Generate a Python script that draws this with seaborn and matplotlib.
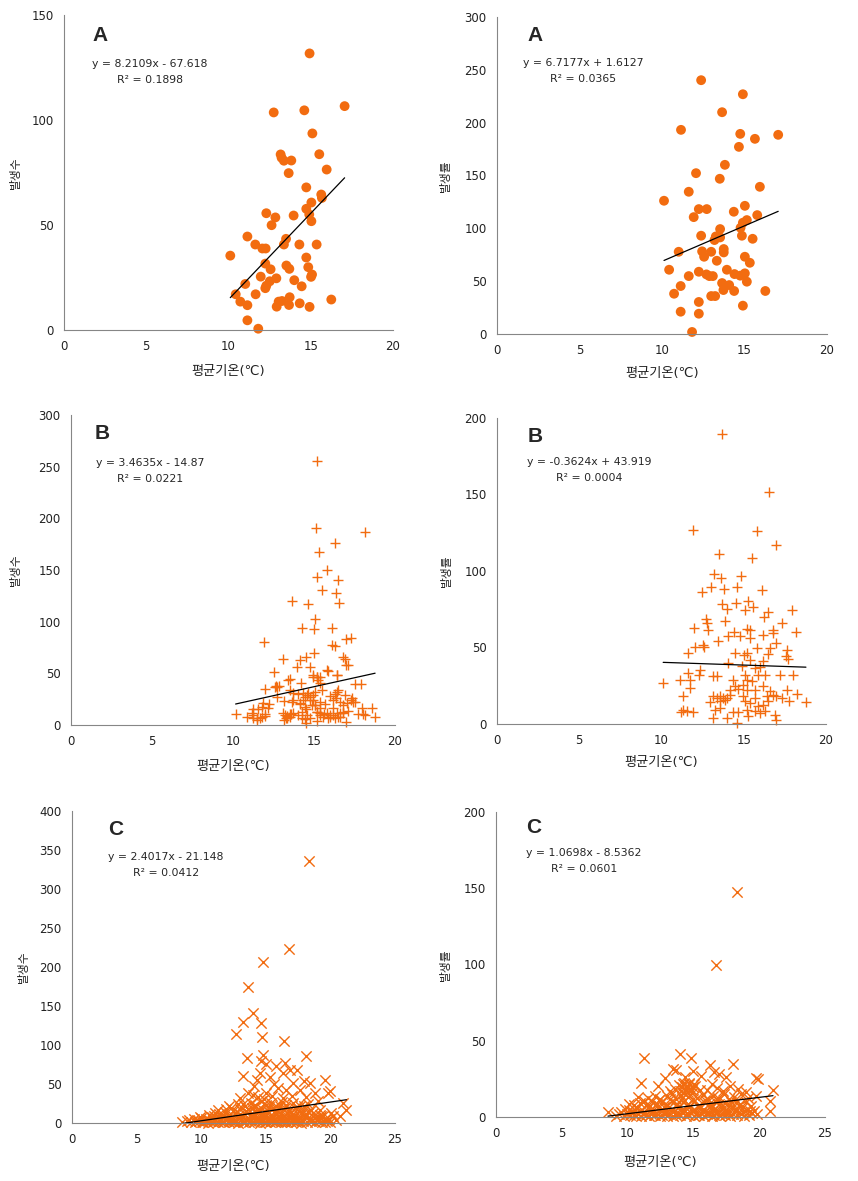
import matplotlib
matplotlib.use('Agg')
import matplotlib.pyplot as plt
import seaborn as sns
import pandas as pd

# ---- data ----
# A : circles
a_cnt_temp = [14.93, 17.06, 12.75, 14.61, 15.10, 13.17, 13.23, 13.37, 13.82, 15.52,
              13.66, 15.97, 14.73, 15.64, 15.68, 15.04, 14.73, 14.91, 15.04, 12.30,
              12.85, 13.96, 12.62, 11.15, 13.50, 13.37, 11.63, 12.06, 12.26, 14.31,
              15.36, 10.11, 14.73, 12.24, 12.56, 13.52, 13.70, 14.85, 11.96, 12.91,
              15.08, 15.02, 12.51, 12.30, 12.24, 14.00, 14.45, 11.02, 10.44, 11.65,
              10.72, 11.15, 13.72, 13.05, 13.25, 12.93, 13.68, 14.33, 14.93, 16.25,
              11.15, 11.81]
a_cnt_val = [131.7, 106.6, 103.6, 104.6, 93.6, 83.6, 82.0, 80.6, 80.7, 83.7,
             74.7, 76.4, 67.9, 64.5, 62.9, 60.7, 57.7, 55.0, 51.8, 55.6,
             53.6, 54.5, 49.9, 44.5, 43.4, 40.7, 40.7, 38.8, 38.8, 40.7,
             40.7, 35.4, 34.5, 31.6, 28.9, 30.7, 29.1, 29.9, 25.4, 24.6,
             26.4, 25.3, 23.2, 21.1, 19.9, 23.7, 20.8, 21.9, 17.0, 17.0,
             13.5, 11.8, 15.6, 13.5, 13.8, 11.1, 11.9, 12.7, 11.0, 14.5,
             4.6, 0.6]

a_rate_temp = [12.37, 14.90, 13.64, 11.15, 14.74, 15.63, 17.04, 14.66, 13.81, 12.06,
               13.50, 15.93, 11.62, 10.12, 12.23, 12.71, 15.02, 14.35, 11.92, 15.77,
               15.14, 14.90, 14.76, 13.52, 12.37, 13.26, 13.18, 13.52, 14.84, 15.49,
               13.74, 13.74, 11.01, 12.43, 12.98, 12.55, 15.02, 13.32, 15.32, 10.43,
               13.93, 12.23, 12.69, 12.87, 13.08, 14.39, 14.74, 15.02, 11.62, 11.13,
               13.64, 14.07, 15.14, 10.73, 13.72, 14.37, 16.26, 12.98, 13.22, 12.23,
               11.13, 12.23, 14.90, 11.82]
a_rate_val = [240.2, 226.9, 209.9, 193.2, 189.4, 184.7, 188.5, 177.1, 160.1, 152.2,
              146.9, 139.3, 134.6, 126.1, 118.2, 118.2, 121.3, 115.7, 110.6, 112.5,
              107.8, 105.3, 100.5, 99.3, 93.0, 92.3, 88.9, 91.4, 93.0, 90.1,
              80.4, 77.2, 77.8, 78.2, 77.8, 73.1, 73.1, 69.3, 67.4, 60.8,
              60.8, 58.9, 56.4, 54.8, 54.8, 56.7, 55.2, 57.4, 54.8, 45.4,
              48.2, 46.3, 49.5, 38.1, 41.6, 40.7, 40.7, 35.9, 35.9, 30.3,
              21.1, 19.2, 26.8, 1.9]

# B : plus signs
b_cnt_temp = [15.19, 15.12, 18.15, 16.32, 15.33, 15.82, 15.19, 16.46, 15.51, 16.34,
              16.52, 13.62, 14.65, 15.04, 15.02, 14.24, 16.11, 11.93, 16.11, 16.28,
              16.98, 17.30, 15.02, 14.51, 16.79, 16.93, 13.11, 14.14, 16.95, 17.08,
              13.93, 14.75, 12.53, 15.86, 16.44, 13.52, 14.96, 15.16, 15.37, 11.97,
              12.63, 12.82, 14.20, 17.55, 17.90, 15.49, 13.72, 14.00, 14.34, 14.55,
              14.75, 15.99, 16.32, 13.17, 13.62, 14.96, 15.37, 16.60, 17.28, 17.43,
              12.20, 11.87, 11.77, 14.14, 15.06, 15.68, 16.81, 11.26, 11.56, 12.18,
              14.51, 18.56, 10.16, 11.15, 11.97, 13.11, 13.52, 13.31, 13.72, 15.16,
              15.37, 15.62, 15.99, 16.60, 16.81, 17.12, 17.74, 18.05, 18.77, 11.26,
              11.46, 11.67, 13.15, 13.35, 14.45, 14.75, 15.16, 15.88, 16.30, 16.50,
              16.98, 14.51, 10.84, 13.72, 14.34, 16.16, 16.36, 14.86, 15.37, 16.16,
              15.06, 16.44, 12.69, 15.37,
              11.25, 11.46, 11.77, 11.98, 12.59, 12.70, 13.41, 13.52, 13.20, 13.30,
              13.50, 13.60, 14.14, 14.24, 14.44, 14.55, 14.75, 14.96, 15.06, 15.17,
              15.37, 15.57, 15.78, 15.99, 16.19, 16.40, 16.60, 16.81, 14.96, 15.17,
              15.27, 15.78, 16.40, 16.50, 16.91, 17.02, 17.33, 17.53, 17.94, 18.15,
              14.03, 14.24, 14.44, 14.65]
b_cnt_val = [255.5, 190.3, 186.5, 176.1, 167.7, 149.7, 142.9, 140.3, 130.6, 127.7,
             117.7, 120.0, 116.8, 102.9, 92.9, 94.2, 93.9, 80.0, 77.7, 76.5,
             83.2, 83.9, 69.7, 65.5, 65.5, 64.2, 63.5, 62.6, 58.1, 58.1,
             55.8, 55.8, 51.0, 52.3, 48.4, 44.8, 46.8, 46.1, 46.8, 34.5,
             37.7, 37.7, 40.3, 39.4, 39.7, 33.9, 31.3, 29.7, 30.6, 29.0,
             27.4, 28.1, 30.0, 23.5, 22.6, 24.2, 22.6, 22.6, 24.2, 22.6,
             20.0, 21.0, 17.7, 20.0, 19.4, 20.0, 19.4, 15.2, 15.5, 16.1,
             15.2, 16.1, 10.6, 11.3, 10.6, 11.9, 11.0, 8.7, 11.3, 12.9,
             11.3, 10.6, 9.7, 11.9, 11.3, 13.9, 10.6, 10.6, 7.4, 6.5,
             4.8, 6.5, 4.8, 6.5, 5.5, 6.5, 3.9, 6.5, 6.5, 8.1,
             3.2, 1.6, 7.4, 24.2, 24.2, 24.2, 25.8, 19.4, 16.1, 16.1,
             32.3, 32.3, 27.4, 40.3,
             9.7, 6.5, 8.0, 8.7, 37.1, 37.1, 43.5, 33.9, 9.7, 6.5,
             8.0, 10.6, 21.0, 12.9, 17.7, 9.7, 24.2, 29.0, 19.4, 12.9,
             9.7, 8.0, 11.3, 7.4, 9.7, 11.3, 8.0, 12.9, 48.4, 46.8,
             43.5, 53.2, 48.4, 33.9, 29.0, 21.0, 25.8, 22.6, 16.1, 9.7,
             9.7, 6.5, 27.4, 30.6]

b_rate_temp = [13.65, 16.55, 11.93, 15.80, 16.94, 13.49, 15.50, 13.18, 13.61, 14.85,
               13.00, 13.81, 14.60, 16.11, 12.49, 13.67, 14.54, 15.23, 15.54, 13.98,
               15.05, 17.95, 16.45, 16.25, 12.70, 13.85, 17.32, 12.78, 11.95, 18.15,
               15.17, 15.37, 12.84, 16.80, 16.75, 14.38, 14.77, 15.37, 14.06, 16.19,
               13.45, 16.99, 12.54, 12.58, 12.03, 16.59, 15.78, 17.61, 11.62, 14.48,
               15.01, 15.17, 16.49, 17.57, 17.71, 14.06, 15.37, 16.19, 14.87, 15.68,
               15.98, 12.33, 11.62, 12.27, 18.01, 15.07, 15.88, 16.29, 17.20, 13.14,
               13.35, 11.12, 11.72, 14.36, 15.17, 15.48, 10.10, 14.97, 14.46, 16.19,
               11.72, 14.16, 15.68, 17.65, 16.59, 18.22, 16.80, 14.16, 11.32, 13.14,
               13.35, 13.55, 13.75, 13.96, 14.97, 16.39, 16.99, 17.30, 15.68, 17.77,
               18.78, 12.94, 13.55, 13.85, 15.07, 15.37, 16.49, 16.19, 15.88, 13.24,
               13.55, 11.32, 11.52, 11.18, 11.93, 14.36, 14.67, 15.17, 15.68, 16.29,
               15.98, 16.90, 15.27, 13.96, 13.16, 16.96, 14.56, 14.67, 15.17]
b_rate_val = [189.8, 151.5, 126.5, 125.9, 116.7, 111.1, 108.7, 97.8, 95.7, 96.5,
              89.6, 88.0, 89.6, 87.8, 86.1, 78.3, 78.9, 80.4, 76.3, 75.4,
              74.6, 74.6, 73.3, 69.8, 68.5, 67.0, 66.3, 65.9, 62.6, 60.4,
              62.2, 61.5, 61.5, 61.5, 59.3, 60.0, 57.2, 56.1, 57.2, 58.3,
              53.9, 52.8, 51.7, 50.2, 50.2, 49.6, 49.6, 48.5, 46.3, 46.3,
              45.2, 46.3, 45.7, 44.1, 42.4, 39.8, 41.5, 40.9, 37.6, 36.5,
              37.2, 35.4, 33.3, 32.2, 32.2, 31.7, 32.2, 32.2, 31.7, 31.1,
              31.1, 28.9, 28.9, 28.9, 28.9, 27.8, 26.7, 25.7, 24.6, 24.6,
              23.5, 22.4, 22.4, 22.4, 21.3, 19.8, 19.1, 19.1, 18.0, 18.0,
              17.0, 18.0, 17.0, 17.0, 18.0, 18.0, 18.0, 17.0, 17.0, 14.8,
              14.1, 14.3, 14.8, 15.4, 14.8, 13.7, 14.8, 12.6, 12.0, 9.3,
              10.4, 9.3, 8.3, 7.6, 7.6, 7.6, 7.6, 9.3, 8.3, 8.3,
              7.2, 6.1, 5.0, 3.9, 3.9, 2.8, 0.7, 22.8, 22.4]

# C : crosses
c_cnt_temp = [8.48, 8.87, 9.22, 9.51, 9.83, 10.04, 10.27, 10.49, 10.68, 10.93,
              11.08, 11.31, 11.47, 11.72, 11.88, 12.13, 12.29, 12.52, 12.71, 12.88,
              13.12, 13.27, 13.49, 13.73, 13.86, 14.12, 14.28, 14.53, 14.69, 14.91,
              15.08, 15.33, 15.47, 15.72, 15.89, 16.14, 16.27, 16.52, 16.68, 16.93,
              17.07, 17.34, 17.46, 17.73, 17.91, 18.18, 18.52, 18.77, 19.13, 19.38,
              19.74, 19.96, 20.46,
              9.05, 9.71, 10.16, 10.57, 11.02, 11.43, 11.79, 12.24, 12.61, 13.06,
              13.38, 13.81, 14.19, 14.58, 15.02, 15.41, 15.77, 16.23, 16.61, 17.04,
              17.39, 17.81, 18.36, 18.94, 19.57,
              9.93, 10.46, 10.97, 11.54, 12.06, 12.57, 13.09, 13.54, 14.07, 14.46,
              14.97, 15.44, 15.96, 16.47, 16.94, 17.48, 17.97, 18.58, 19.27, 19.88,
              9.47, 10.02, 10.38, 10.81, 11.19, 11.63, 11.97, 12.41, 12.83, 13.18,
              13.61, 14.03, 14.37, 14.82, 15.23, 15.58, 16.04, 16.42, 16.77, 17.22,
              17.58, 18.04, 18.41, 18.83, 19.17, 19.62, 20.21,
              10.62, 11.04, 11.38, 11.83, 12.17, 12.64, 13.02, 13.43, 13.78, 14.22,
              14.63, 15.04, 15.38, 15.81, 16.19, 16.63, 17.03, 17.38, 17.82, 18.23,
              18.68, 19.21, 20.04, 19.43,
              11.32, 11.91, 12.48, 13.04, 13.47, 13.93, 14.27, 14.72, 15.13, 15.52,
              15.88, 16.33, 16.81, 17.27, 17.84, 18.53, 19.18, 21.24,
              12.33, 12.76, 13.22, 13.64, 14.07, 14.44, 14.86, 15.27, 15.66, 16.08,
              16.46, 16.94, 17.41, 17.97,
              12.18, 12.87, 13.36, 13.82, 14.18, 14.63, 15.02, 15.43, 15.77, 16.22,
              16.58, 17.13, 17.62, 18.27, 19.05, 20.98, 20.72,
              13.04, 13.63, 14.02, 14.41, 14.87, 15.05, 15.48, 15.95, 16.31, 16.60,
              17.02, 17.63, 18.12, 18.79, 19.82, 19.95,
              13.25, 13.56, 14.28, 14.54, 14.61, 14.79, 15.05, 15.31, 15.82, 16.34,
              16.49, 16.86, 17.11, 17.45, 17.94, 18.14, 18.40, 19.61, 14.12, 15.63,
              18.35, 16.80, 14.79, 13.66, 14.02, 13.25, 14.61, 12.73, 14.71, 16.41]
c_cnt_val = [0.9, 2.1, 1.5, 0.8, 2.6, 1.2, 3.1, 0.6, 2.2, 1.0,
             3.4, 0.7, 2.0, 1.3, 3.6, 0.9, 2.4, 1.1, 3.0, 0.5,
             2.7, 1.4, 3.3, 0.8, 2.1, 1.0, 3.5, 0.6, 2.3, 1.2,
             3.2, 0.9, 2.5, 1.5, 3.0, 0.7, 2.2, 1.1, 3.4, 0.8,
             2.6, 1.3, 3.1, 0.6, 2.0, 1.4, 2.8, 0.9, 2.3, 1.0,
             2.9, 1.6, 4.3,
             3.8, 4.5, 1.9, 4.1, 2.4, 4.7, 1.7, 4.3, 2.9, 4.9,
             1.8, 4.4, 2.6, 4.8, 1.6, 4.2, 2.8, 4.6, 1.9, 4.0,
             2.5, 4.5, 3.7, 4.1, 1.2,
             7.1, 3.9, 9.2, 4.6, 9.6, 3.7, 9.4, 4.4, 9.0, 3.8,
             9.5, 4.9, 9.1, 3.6, 9.3, 4.7, 9.8, 3.9, 8.7, 5.3,
             5.2, 6.8, 5.5, 7.9, 6.1, 8.4, 5.7, 7.6, 6.3, 8.8,
             5.9, 7.4, 6.2, 8.1, 5.4, 7.7, 6.5, 8.6, 5.8, 7.2,
             6.0, 8.3, 5.6, 7.0, 6.4, 5.1, 8.5,
             10.5, 12.2, 11.0, 13.5, 10.8, 12.9, 11.3, 13.8, 10.6, 12.5,
             11.6, 13.9, 10.9, 12.7, 11.4, 13.2, 10.7, 12.4, 11.1, 13.6,
             12.8, 10.4, 12.8, 8.5,
             16.2, 18.5, 15.4, 17.8, 16.0, 19.2, 15.7, 18.0, 16.6, 19.4,
             15.3, 17.5, 16.8, 18.9, 15.9, 17.2, 17.1, 17.1,
             19.8, 14.6, 23.9, 18.1, 20.6, 17.3, 24.6, 19.9, 14.4, 21.2,
             19.6, 14.1, 20.4, 21.3,
             22.0, 24.5, 21.5, 26.0, 23.2, 28.5, 22.8, 25.6, 21.9, 27.0,
             23.5, 25.2, 22.4, 24.0, 27.7, 25.6, 8.5,
             32.0, 38.4, 36.3, 33.5, 31.0, 38.4, 34.0, 44.8, 31.5, 42.7,
             35.0, 42.7, 33.0, 38.4, 38.4, 40.6,
             59.8, 82.8, 55.5, 64.0, 79.0, 87.1, 75.6, 58.5, 73.4, 64.0,
             76.8, 68.3, 51.2, 68.3, 53.4, 86.2, 51.2, 54.6, 48.0, 50.0,
             335.5, 223.7, 206.2, 174.2, 140.9, 128.9, 127.6, 114.4, 110.6, 104.6]

c_rate_temp = [8.51, 9.14, 9.38, 9.72, 9.97, 10.21, 10.39, 10.62, 10.81, 11.03,
               11.18, 11.42, 11.61, 11.79, 12.02, 12.19, 12.43, 12.58, 12.82, 13.01,
               13.17, 13.42, 13.58, 13.83, 14.02, 14.18, 14.43, 14.57, 14.82, 15.03,
               15.18, 15.42, 15.59, 15.81, 16.02, 16.18, 16.43, 16.58, 16.82, 17.03,
               17.19, 17.42, 17.58, 17.82, 18.03, 18.28, 18.62, 18.87, 19.23, 19.48,
               20.80,
               9.52, 10.08, 10.51, 10.92, 11.33, 11.71, 12.08, 12.52, 12.91, 13.29,
               13.71, 14.12, 14.48, 14.93, 15.33, 15.68, 16.12, 16.48, 16.91, 17.29,
               17.71, 18.16, 18.74, 19.31, 19.85,
               9.78, 10.31, 10.72, 11.08, 11.52, 11.88, 12.31, 12.69, 13.12, 13.52,
               13.88, 14.31, 14.72, 15.09, 15.52, 15.88, 16.31, 16.72, 17.08, 17.52,
               17.91, 18.32, 18.71, 19.08, 19.61,
               10.14, 10.64, 11.27, 11.72, 12.36, 12.78, 13.26, 13.71, 14.16, 14.52,
               14.98, 15.46, 15.92, 16.38, 16.84, 17.36, 17.86, 18.47,
               10.52, 10.98, 11.41, 11.83, 12.21, 12.62, 13.03, 13.38, 13.79, 14.22,
               14.58, 15.02, 15.39, 15.78, 16.21, 16.62, 16.98, 17.41, 17.79, 18.22,
               18.58, 19.02, 19.41, 20.85, 10.79,
               11.58, 12.12, 12.49, 13.02, 13.41, 13.69, 14.03, 14.28, 14.62, 14.91,
               15.28, 15.71, 16.08, 16.52, 16.88, 17.31, 17.68, 18.12, 18.61, 19.18,
               19.79, 21.05,
               12.31, 11.04, 13.62, 13.91, 14.08, 14.32, 14.51, 14.69, 14.88, 15.12,
               15.49, 16.02, 16.41, 16.79, 17.28, 17.81, 18.42, 19.02, 19.73, 19.91,
               13.21,
               14.12, 14.38, 14.63, 14.77, 15.04, 14.24, 14.56, 14.95,
               11.22, 14.01, 14.84, 13.45, 13.65, 16.24, 16.54, 18.01, 14.97, 15.61,
               16.92, 14.33, 12.88, 17.49,
               18.31, 16.74]
c_rate_val = [3.1, 0.9, 1.8, 0.5, 2.2, 1.0, 2.8, 0.6, 1.9, 0.8,
              2.5, 1.2, 0.4, 2.0, 1.1, 2.7, 0.7, 1.6, 2.9, 0.9,
              2.1, 0.5, 1.7, 2.6, 1.0, 2.3, 0.6, 1.5, 2.8, 0.8,
              2.0, 1.2, 2.6, 0.5, 1.8, 2.4, 0.9, 1.6, 2.7, 0.7,
              2.1, 1.3, 2.5, 0.6, 1.9, 1.1, 2.2, 0.8, 1.5, 2.6,
              3.7,
              3.4, 4.6, 1.4, 3.9, 2.3, 4.4, 1.6, 3.8, 2.4, 4.5,
              1.3, 3.6, 2.7, 4.2, 1.5, 3.7, 2.9, 4.1, 1.4, 3.5,
              2.6, 4.3, 3.2, 3.8, 1.9,
              5.5, 4.2, 6.1, 4.8, 6.6, 3.9, 5.8, 4.5, 6.8, 4.1,
              6.3, 4.7, 6.9, 4.3, 6.0, 3.8, 5.6, 4.4, 6.4, 4.0,
              5.9, 4.6, 6.2, 4.9, 3.6,
              8.8, 5.7, 10.6, 7.1, 11.2, 6.6, 11.5, 7.3, 12.2, 8.1,
              11.9, 6.8, 10.9, 7.6, 11.4, 6.5, 9.8, 7.2,
              7.6, 9.4, 8.0, 10.2, 8.5, 9.9, 7.9, 10.6, 8.3, 10.0,
              8.8, 10.8, 7.7, 9.6, 8.2, 10.4, 8.6, 9.2, 7.8, 10.1,
              8.4, 9.7, 7.5, 10.3, 12.9,
              12.4, 14.0, 11.8, 13.5, 15.2, 12.1, 14.6, 16.0, 12.9, 15.5,
              12.3, 14.2, 11.6, 13.8, 12.6, 15.0, 11.9, 13.4, 14.8, 12.2,
              14.0, 17.9,
              20.5, 22.3, 18.5, 21.0, 17.2, 22.5, 19.0, 21.8, 17.8, 20.2,
              18.0, 17.5, 21.5, 19.0, 17.0, 20.0, 18.2, 16.5, 25.4, 24.9,
              16.8,
              19.6, 17.9, 22.0, 18.6, 21.4, 21.9, 16.3, 19.8,
              38.7, 41.5, 38.7, 31.5, 30.6, 34.3, 29.3, 35.0, 29.9, 27.0,
              28.0, 26.5, 25.5, 26.0,
              147.5, 99.7]

# trend lines as printed on the chart
slopes = [8.2109, 6.7177, 3.4635, -0.3624, 2.4017, 1.0698]
intercepts = [-67.618, 1.6127, -14.87, 43.919, -21.148, -8.5362]
r_squared = [0.1898, 0.0365, 0.0221, 0.0004, 0.0412, 0.0601]
letters = ['A', 'A', 'B', 'B', 'C', 'C']
y_labels = ['발생수', '발생률', '발생수', '발생률', '발생수', '발생률']
y_max = [150, 300, 300, 200, 400, 200]
x_max = [20, 20, 20, 20, 25, 25]
x_label = '평균기온(℃)'

ORANGE = '#F26C10'
AXIS_GRAY = '#868686'

sns.set_style('white')
plt.rcParams['font.family'] = ['DejaVu Sans', 'Noto Sans CJK KR']

fig = plt.figure(figsize=(8.58, 11.81), dpi=100)

# axes rectangles (figure fractions) + label/text placement per panel
panels = [
    dict(rect=[0.0746, 0.7206, 0.3834, 0.2667], letter=(0.109, 0.936), eq=(0.26, 0.844), r2=(0.26, 0.793),
         xl=-0.111, yl=-0.128),
    dict(rect=[0.5793, 0.7172, 0.3846, 0.2684], letter=(0.115, 0.943), eq=(0.26, 0.856), r2=(0.26, 0.804),
         xl=-0.104, yl=-0.136),
    dict(rect=[0.0828, 0.3861, 0.3776, 0.2625], letter=(0.096, 0.941), eq=(0.244, 0.846), r2=(0.244, 0.795),
         xl=-0.113, yl=-0.151),
    dict(rect=[0.5793, 0.3870, 0.3834, 0.2591], letter=(0.116, 0.941), eq=(0.279, 0.857), r2=(0.279, 0.805),
         xl=-0.106, yl=-0.133),
    dict(rect=[0.0839, 0.0491, 0.3765, 0.2642], letter=(0.136, 0.942), eq=(0.29, 0.852), r2=(0.29, 0.802),
         xl=-0.118, yl=-0.130),
    dict(rect=[0.5781, 0.0542, 0.3834, 0.2583], letter=(0.116, 0.950), eq=(0.267, 0.867), r2=(0.267, 0.814),
         xl=-0.127, yl=-0.133),
]

series = [(a_cnt_temp, a_cnt_val), (a_rate_temp, a_rate_val),
          (b_cnt_temp, b_cnt_val), (b_rate_temp, b_rate_val),
          (c_cnt_temp, c_cnt_val), (c_rate_temp, c_rate_val)]
marker_kw = [
    dict(marker='o', s=50, linewidth=0, edgecolor='none'),
    dict(marker='o', s=50, linewidth=0, edgecolor='none'),
    dict(marker='+', s=55, linewidth=1.0),
    dict(marker='+', s=55, linewidth=1.0),
    dict(marker='x', s=55, linewidth=1.0),
    dict(marker='x', s=55, linewidth=1.0),
]

for i, p in enumerate(panels):
    ax = fig.add_axes(p['rect'])
    temp, val = series[i]
    df = pd.DataFrame({'temp': temp, 'val': val})

    sns.scatterplot(data=df, x='temp', y='val', ax=ax, color=ORANGE,
                    clip_on=False, zorder=2, legend=False, **marker_kw[i])

    # linear trend line over the data range
    x0, x1 = df['temp'].min(), df['temp'].max()
    trend = pd.DataFrame({'temp': [x0, x1],
                          'val': [slopes[i] * x0 + intercepts[i], slopes[i] * x1 + intercepts[i]]})
    sns.lineplot(data=trend, x='temp', y='val', ax=ax, color='black', lw=0.9, zorder=3)

    ax.set_xlim(0, x_max[i])
    ax.set_ylim(0, y_max[i])
    ax.set_xticks(range(0, x_max[i] + 1, 5))
    ax.set_yticks(range(0, y_max[i] + 1, 50))
    sns.despine(ax=ax)
    for side in ['left', 'bottom']:
        ax.spines[side].set_color(AXIS_GRAY)
        ax.spines[side].set_linewidth(0.8)
    ax.tick_params(axis='x', direction='inout', length=5, width=0.8, color=AXIS_GRAY,
                   labelsize=8.5, labelcolor='#222222', pad=5)
    ax.tick_params(axis='y', direction='out', length=4.5, width=0.8, color=AXIS_GRAY,
                   labelsize=8.5, labelcolor='#222222', pad=3)

    ax.set_xlabel(x_label, fontsize=9.5, color='#222222')
    ax.set_ylabel(y_labels[i], fontsize=8.5, color='#222222')
    ax.xaxis.set_label_coords(0.5, p['xl'])
    ax.yaxis.set_label_coords(p['yl'], 0.5)

    ax.text(*p['letter'], letters[i], transform=ax.transAxes, ha='center', va='center',
            fontsize=15, fontweight='bold', family='Liberation Sans')
    sign = '+' if intercepts[i] >= 0 else '-'
    eq = f'y = {slopes[i]}x {sign} {abs(intercepts[i])}'
    ax.text(*p['eq'], eq, transform=ax.transAxes, ha='center', va='center', fontsize=7.8)
    ax.text(*p['r2'], f'R² = {r_squared[i]:.4f}', transform=ax.transAxes,
            ha='center', va='center', fontsize=7.8)

fig.savefig('out.png', dpi=100)
